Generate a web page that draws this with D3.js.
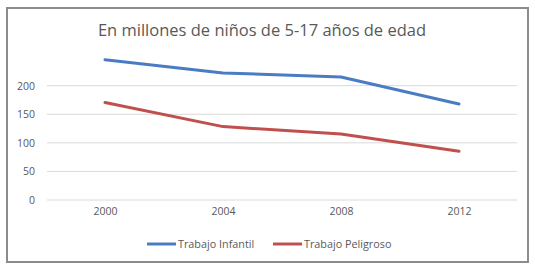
<!DOCTYPE html>
<html>
<head>
<meta charset="utf-8">
<script src="https://cdn.jsdelivr.net/npm/d3@7"></script>
<style>
  body { margin: 0; background: #fff; }
  svg { display: block; font-family: "Open Sans", "Noto Sans", sans-serif; }
</style>
</head>
<body>
<div id="chart"></div>
<script>
const years = ["2000", "2004", "2008", "2012"];
const trabajoInfantil = [245.5, 222.3, 215.2, 168.0];
const trabajoPeligroso = [170.5, 128.4, 115.3, 85.3];
const yTicks = [0, 50, 100, 150, 200];
const seriesNames = ["Trabajo Infantil", "Trabajo Peligroso"];
const seriesColors = ["#4a7cc4", "#c0504d"];

const width = 535, height = 270;
const svg = d3.select("#chart").append("svg")
  .attr("width", width)
  .attr("height", height);

// outer frame
svg.append("rect")
  .attr("x", 7).attr("y", 8)
  .attr("width", 521).attr("height", 254)
  .attr("fill", "#fff")
  .attr("stroke", "#8c8c8c")
  .attr("stroke-width", 2);

svg.append("text")
  .attr("x", 262).attr("y", 36)
  .attr("text-anchor", "middle")
  .attr("fill", "#595959")
  .style("font-size", "16.5px")
  .text("En millones de niños de 5-17 años de edad");

const x = d3.scalePoint().domain(years).range([46, 518]).padding(0.5);
const y = d3.scaleLinear().domain([0, 250]).range([200, 57.1]);

// gridlines
svg.append("g").selectAll("line")
  .data(yTicks)
  .join("line")
  .attr("x1", 47).attr("x2", 517)
  .attr("y1", d => y(d)).attr("y2", d => y(d))
  .attr("stroke", "#d9d9d9")
  .attr("stroke-width", 1);

const yAxis = d3.axisLeft(y).tickValues(yTicks).tickSize(0).tickPadding(0);
svg.append("g")
  .attr("transform", "translate(35,0)")
  .call(yAxis)
  .call(g => g.select(".domain").remove())
  .selectAll("text")
  .attr("fill", "#595959")
  .style("font-size", "10.5px")
  .style("font-family", "'Open Sans', sans-serif");

const xAxis = d3.axisBottom(x).tickSize(0).tickPadding(0);
svg.append("g")
  .attr("transform", "translate(0,208)")
  .call(xAxis)
  .call(g => g.select(".domain").remove())
  .selectAll("text")
  .attr("fill", "#595959")
  .style("font-size", "10.5px")
  .style("font-family", "'Open Sans', sans-serif");

const line = d3.line()
  .x((d, i) => x(years[i]))
  .y(d => y(d));

[trabajoInfantil, trabajoPeligroso].forEach((vals, i) => {
  svg.append("path")
    .datum(vals)
    .attr("d", line)
    .attr("fill", "none")
    .attr("stroke", seriesColors[i])
    .attr("stroke-width", 3)
    .attr("stroke-linejoin", "round")
    .attr("stroke-linecap", "round");
});

// legend
const legendX = [147, 273];
const legend = svg.append("g").selectAll("g")
  .data(seriesNames)
  .join("g")
  .attr("transform", (d, i) => `translate(${legendX[i]},244)`);

legend.append("line")
  .attr("x1", 0).attr("x2", 29)
  .attr("stroke", (d, i) => seriesColors[i])
  .attr("stroke-width", 3);

legend.append("text")
  .attr("x", 31).attr("y", 3.7)
  .attr("fill", "#595959")
  .style("font-size", "10.8px")
  .text(d => d);
</script>
</body>
</html>
